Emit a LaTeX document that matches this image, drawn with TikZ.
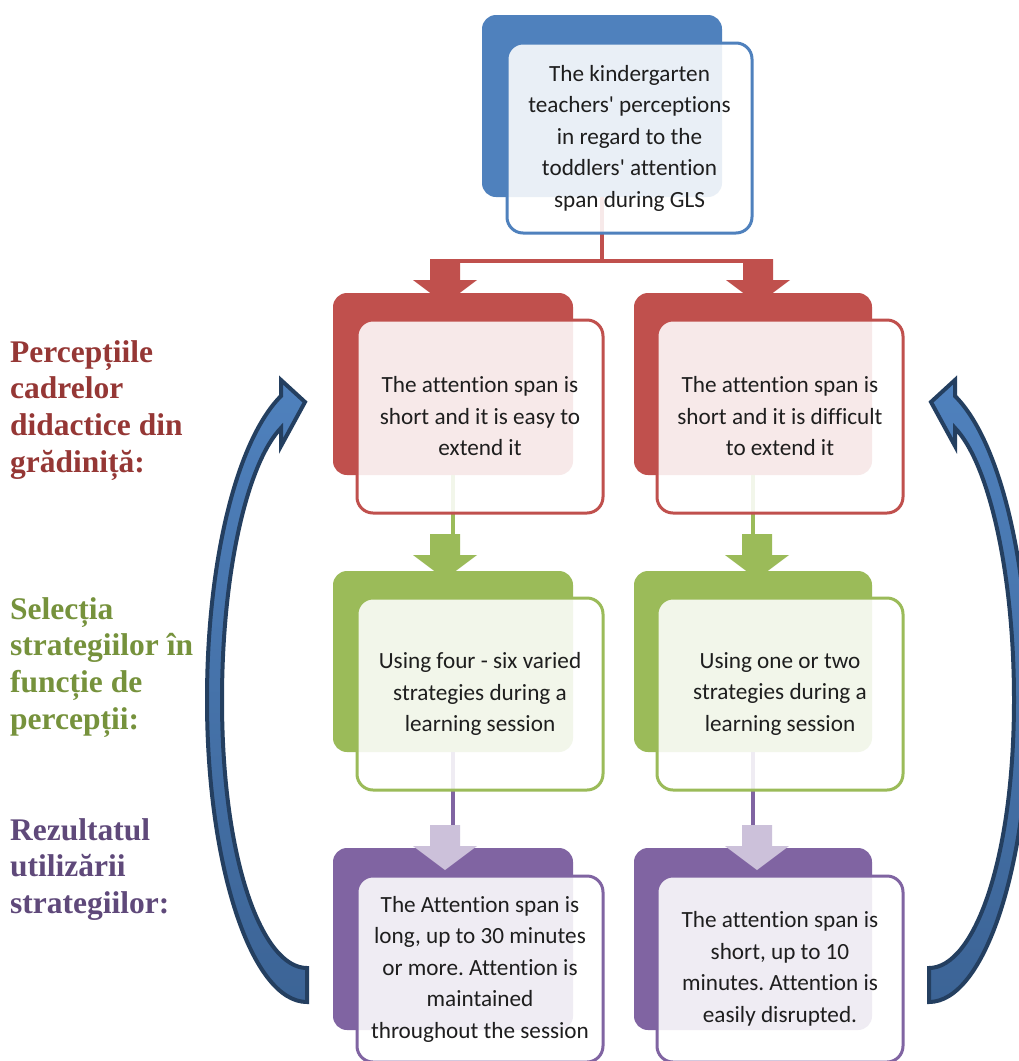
\documentclass[tikz,border=0pt]{standalone}
\usepackage{fontspec}
\setmainfont{Carlito}[Ligatures={NoCommon,TeXOff}]
\newfontfamily\labelfont{Liberation Serif}
\frenchspacing
\definecolor{cblue}{HTML}{4F81BD}
\definecolor{cblued}{HTML}{3C6496}
\definecolor{cred}{HTML}{C0504D}
\definecolor{cgreen}{HTML}{9BBB59}
\definecolor{cpurple}{HTML}{8064A2}
\definecolor{clav}{HTML}{CCC1DA}
\definecolor{lred}{HTML}{953735}
\definecolor{lgreen}{HTML}{76923C}
\definecolor{lpurple}{HTML}{5F497A}
\definecolor{navy}{HTML}{243F60}
\definecolor{textgray}{HTML}{1E1E1E}
\newcommand\blockarrow[3]{% colour, x centre, y top of shaft
  \fill[#1] (#2-15,#3) -- (#2+15,#3) -- (#2+15,#3+21) -- (#2+32,#3+21) -- (#2,#3+45)
    -- (#2-32,#3+21) -- (#2-15,#3+21) -- cycle;}
\newcommand\cyclearrowpath{(307,968) -- (307,1002) .. controls (252,1002) and (207,867) .. (207,700)
  .. controls (207,560) and (237,440) .. (281,396) -- (281,380) -- (305,402) -- (281,446)
  -- (281,428) .. controls (248,462) and (222,570) .. (222,700)
  .. controls (222,860) and (262,968) .. (307,968) -- cycle}
\begin{document}
\begin{tikzpicture}[x=1pt,y=-1pt,
  backbox/.style={draw=none,fill=#1,rounded corners=14pt,inner sep=0pt},
  frontbox/.style={draw=#1,line width=3pt,fill=white,fill opacity=0.88,text opacity=1,
    rounded corners=16pt,inner sep=0pt,align=center,text=textgray,
    font=\fontsize{23.2}{31.5}\selectfont},
  conn/.style={draw=#1,line width=3.5pt},
  sidelabel/.style={anchor=north west,inner sep=0pt,align=left,
    font=\labelfont\bfseries\fontsize{31.5}{36.7}\selectfont,text=#1},
  cyclearrow/.style={draw=navy,line width=4pt,line join=miter,top color=cblue,bottom color=cblued}]
\useasboundingbox (0,0) rectangle (1019,1061);
\clip (0,0) rectangle (1019,1061);
\fill[white] (0,0) rectangle (1019,1061);

% back boxes
\node[backbox=cblue,minimum width=240pt,minimum height=182pt] (tb) at (602,106) {};
\node[backbox=cred,minimum width=240pt,minimum height=182pt] (rbl) at (453,384) {};
\node[backbox=cred,minimum width=238pt,minimum height=182pt] (rbr) at (753,384) {};
\node[backbox=cgreen,minimum width=240pt,minimum height=181pt] (gbl) at (453,661.5) {};
\node[backbox=cgreen,minimum width=238pt,minimum height=181pt] (gbr) at (753,661.5) {};
\node[backbox=cpurple,minimum width=240pt,minimum height=182pt] (pbl) at (453,939) {};
\node[backbox=cpurple,minimum width=238pt,minimum height=182pt] (pbr) at (753,939) {};

% connectors
\coordinate (j) at (602,261);
\coordinate (jl) at (445,261);
\coordinate (jr) at (758,261);
\draw[conn=cred] (tb.south) -- (j);
\draw[conn=cred] (jl) -- (jr);
\blockarrow{cred}{445}{259}
\blockarrow{cred}{758}{259}
\coordinate (gl) at (453,535);
\coordinate (gr) at (753,535);
\draw[conn=cgreen] (rbl.south) -- (gl);
\draw[conn=cgreen] (rbr.south) -- (gr);
\blockarrow{cgreen}{445}{534}
\blockarrow{cgreen}{757}{534}
\coordinate (pl) at (453,825);
\coordinate (pr) at (753,825);
\draw[conn=cpurple] (gbl.south) -- (pl);
\draw[conn=cpurple] (gbr.south) -- (pr);
\fill[clav] (445-15,825) -- (445+15,825) -- (445+15,846) -- (445+32,846) -- (445,870)
    -- (445-32,846) -- (445-15,846) -- cycle;
\fill[clav] (757-15,825) -- (757+15,825) -- (757+15,846) -- (757+32,846) -- (757,870)
    -- (757-32,846) -- (757-15,846) -- cycle;

% front boxes
\node[frontbox=cblue,minimum width=245pt,minimum height=190pt] (tf) at (629.5,138)
  {The kindergarten\\teachers' perceptions\\in regard to the\\toddlers' attention\\span during GLS};
\node[frontbox=cred,minimum width=246pt,minimum height=193pt] (rfl) at (480,416.5)
  {The attention span is\\short and it is easy to\\extend it};
\node[frontbox=cred,minimum width=246pt,minimum height=193pt] (rfr) at (780,416.5)
  {The attention span is\\short and it is difficult\\to extend it};
\node[frontbox=cgreen,minimum width=246pt,minimum height=192pt] (gfl) at (480,694)
  {Using four - six varied\\strategies during a\\learning session};
\node[frontbox=cgreen,minimum width=246pt,minimum height=192pt] (gfr) at (780,694)
  {Using one or two\\strategies during a\\learning session};
\node[frontbox=cpurple,minimum width=246pt,minimum height=186pt] (pfl) at (480,969)
  {The Attention span is\\long, up to 30 minutes\\or more. Attention is\\maintained\\throughout the session};
\node[frontbox=cpurple,minimum width=246pt,minimum height=186pt] (pfr) at (780,969)
  {The attention span is\\short, up to 10\\minutes. Attention is\\easily disrupted.};

% side labels
\node[sidelabel=lred] (lab1) at (10,340) {Percepțiile\\cadrelor\\didactice din\\grădiniță:};
\node[sidelabel=lgreen] (lab2) at (10,597) {Selecția\\strategiilor în\\funcție de\\percepții:};
\node[sidelabel=lpurple] (lab3) at (10,818) {Rezultatul\\utilizării\\strategiilor:};

% cycle arrows
\path[cyclearrow] \cyclearrowpath;
\begin{scope}[xshift=1236pt,xscale=-1]
\path[cyclearrow] \cyclearrowpath;
\end{scope}
\end{tikzpicture}
\end{document}
